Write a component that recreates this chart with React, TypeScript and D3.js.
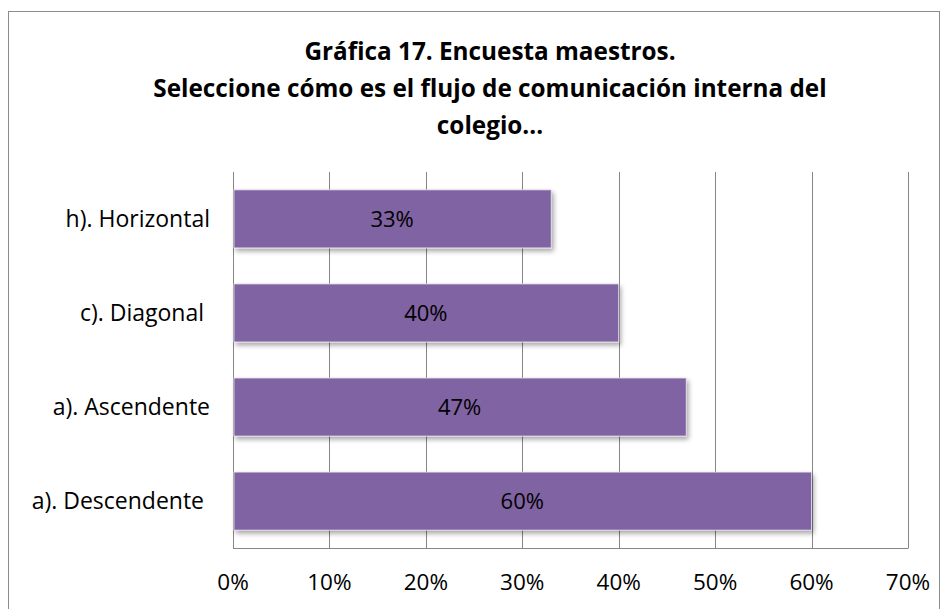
import React from "react";
import * as d3 from "d3";

const titleLines = [
  "Gráfica 17. Encuesta maestros.",
  "Seleccione cómo es el flujo de comunicación interna del",
  "colegio...",
];
const categories = ["h). Horizontal", "c). Diagonal ", "a). Ascendente", "a). Descendente "];
const values = [0.33, 0.4, 0.47, 0.6];
const ticks = [0, 0.1, 0.2, 0.3, 0.4, 0.5, 0.6, 0.7];

const W = 946;
const H = 609;
const FONT = "'Open Sans', 'Noto Sans', sans-serif";

export default function App() {
  const left = 233, right = 908, top = 172, bottom = 548;
  const x = d3.scaleLinear().domain([0, 0.7]).range([left, right]);
  const y = d3.scaleBand<string>().domain(categories).range([top, bottom]).paddingInner(0.383).paddingOuter(0.19);
  const fmt = d3.format(".0%");
  return (
    <svg width={W} height={H} style={{ position: "absolute", left: 0, top: 0 }}>
      <defs>
        <filter id="sh" x="-5%" y="-20%" width="115%" height="150%">
          <feGaussianBlur in="SourceAlpha" stdDeviation="2.5" />
          <feOffset dx="2" dy="3" result="b" />
          <feComponentTransfer><feFuncA type="linear" slope="0.35" /></feComponentTransfer>
          <feMerge><feMergeNode /><feMergeNode in="SourceGraphic" /></feMerge>
        </filter>
      </defs>
      <rect x={0} y={0} width={W} height={H} fill="#fff" />
      <rect x={8.5} y={11.5} width={931} height={610} fill="#fff" stroke="#8c8c8c" strokeWidth={1} />
      {titleLines.map((t, i) => (
        <text key={i} x={490} y={60 + i * 37} textAnchor="middle" fontFamily={FONT} fontWeight="bold" fontSize={24.3} fill="#000">{t}</text>
      ))}
      {ticks.map((t) => (
        <line key={t} x1={Math.round(x(t)) + 0.5} x2={Math.round(x(t)) + 0.5} y1={top} y2={bottom} stroke="#868686" strokeWidth={1} />
      ))}
      <line x1={left} x2={right + 0.5} y1={bottom + 0.5} y2={bottom + 0.5} stroke="#868686" />
      {categories.map((c, i) => (
        <g key={c}>
          <rect x={x(0) + 1} y={y(c)!} width={x(values[i]) - x(0) - 1} height={y.bandwidth()} fill="#8064A2" stroke="#e6e0ee" strokeWidth={0.8} filter="url(#sh)" />
          <text x={(x(0) + x(values[i])) / 2} y={y(c)! + y.bandwidth() / 2} dy="0.35em" textAnchor="middle" fontFamily={FONT} fontSize={22} fill="#000">{fmt(values[i])}</text>
          <text x={210} y={y(c)! + y.bandwidth() / 2} dy="0.35em" textAnchor="end" fontFamily={FONT} fontSize={23} fill="#000" style={{ whiteSpace: "pre" }}>{c}</text>
        </g>
      ))}
      {ticks.map((t) => (
        <text key={t} x={x(t)} y={582} dy="0.35em" textAnchor="middle" fontFamily={FONT} fontSize={22.5} fill="#000">{fmt(t)}</text>
      ))}
    </svg>
  );
}
